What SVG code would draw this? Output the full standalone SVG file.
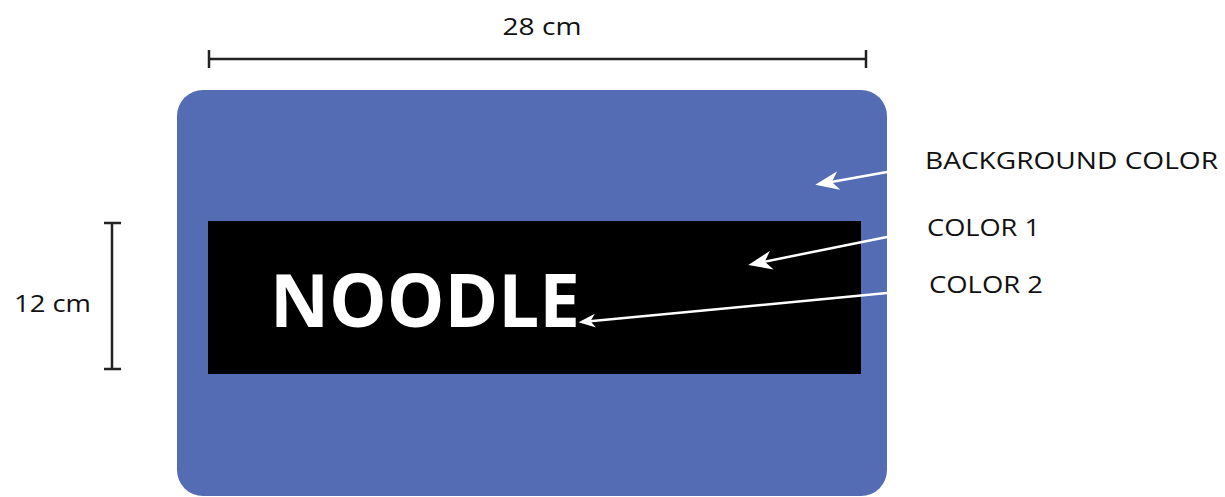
<svg xmlns="http://www.w3.org/2000/svg" width="1225" height="497" viewBox="0 0 1225 497">
<style>
.lbl{font-family:"Open Sans","Liberation Sans",sans-serif;font-size:24px;fill:#111;}
.dim{stroke:#222;stroke-width:2.5;fill:none;}
.arr{stroke:#fff;stroke-width:2.5;fill:none;}
</style>
<defs>
<marker id="ah" viewBox="0 0 10 10" refX="8" refY="5" markerWidth="24" markerHeight="19" orient="auto" markerUnits="userSpaceOnUse" preserveAspectRatio="none">
<path d="M10,5 L0,0 L3,5 L0,10 Z" fill="#fff"/>
</marker>
<marker id="ahs" viewBox="0 0 10 10" refX="8" refY="5" markerWidth="17" markerHeight="14" orient="auto" markerUnits="userSpaceOnUse" preserveAspectRatio="none">
<path d="M10,5 L0,0 L3,5 L0,10 Z" fill="#fff"/>
</marker>
</defs>
<rect width="1225" height="497" fill="#fff"/>
<g id="card">
<rect x="177" y="90" width="710" height="406" rx="26" fill="#536cb4"/>
</g>
<g id="band">
<rect x="208" y="221" width="653" height="153" fill="#000"/>
<text x="270" y="327" font-family="'Open Sans','Liberation Sans',sans-serif" font-weight="bold" font-size="74" fill="#fff" textLength="310" lengthAdjust="spacingAndGlyphs">NOODLE</text>
</g>
<g id="dim-width">
<path class="dim" d="M209,59 H866 M209,50 V68 M866,50 V68"/>
<text class="lbl" x="542" y="35" text-anchor="middle" textLength="79" lengthAdjust="spacingAndGlyphs">28 cm</text>
</g>
<g id="dim-height">
<path class="dim" d="M112,223 V369 M104,223 H121 M104,369 H121"/>
<text class="lbl" x="14" y="312" textLength="77" lengthAdjust="spacingAndGlyphs">12 cm</text>
</g>
<g id="labels">
<text class="lbl" x="925" y="169" textLength="293" lengthAdjust="spacingAndGlyphs">BACKGROUND COLOR</text>
<text class="lbl" x="927" y="236" textLength="113" lengthAdjust="spacingAndGlyphs">COLOR 1</text>
<text class="lbl" x="929" y="293" textLength="114" lengthAdjust="spacingAndGlyphs">COLOR 2</text>
</g>
<g id="connectors">
<path class="arr" d="M887,172 L820,184" marker-end="url(#ah)"/>
<path class="arr" d="M887,237 L753,264" marker-end="url(#ah)"/>
<path class="arr" d="M887,293 L582,322" marker-end="url(#ahs)"/>
</g>
</svg>
